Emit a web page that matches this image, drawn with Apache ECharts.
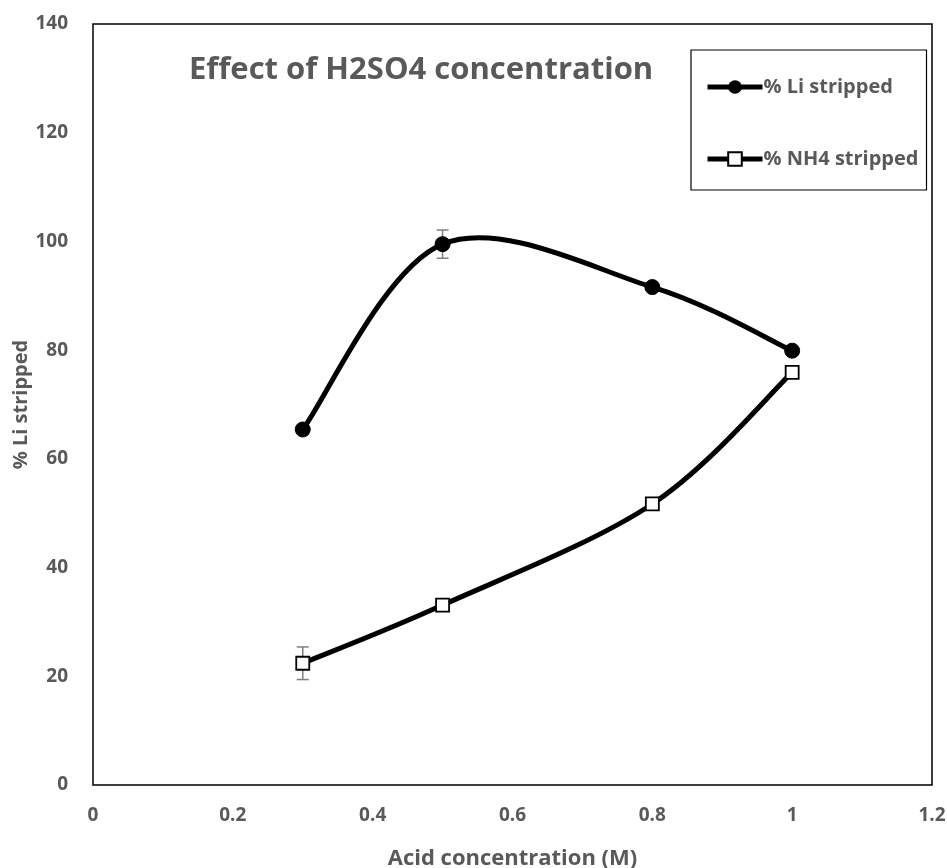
<!DOCTYPE html>
<html>
<head>
<meta charset="utf-8">
<script src="https://cdn.jsdelivr.net/npm/echarts@6/dist/echarts.min.js"></script>
<style>html,body{margin:0;padding:0;background:#fff;}#c{width:947px;height:868px;}</style>
</head>
<body>
<div id="c"></div>
<script>
const acid = [0.3, 0.5, 0.8, 1.0];
const liStripped = [65.4, 99.5, 91.6, 79.9];
const nh4Stripped = [22.4, 33.1, 51.7, 75.9];
const liErr = [0, 2.6, 0, 0];
const nh4Err = [3.0, 0, 0, 0];
const xTicks = [0, 0.2, 0.4, 0.6, 0.8, 1, 1.2];
const yTicks = [0, 20, 40, 60, 80, 100, 120, 140];

const FONT = '"Open Sans", Lato, sans-serif';
const GRAY = '#595959';

function pairs(xs, ys) { return xs.map((x, i) => [x, ys[i]]); }
function errData(xs, ys, es) {
  const out = [];
  xs.forEach((x, i) => { if (es[i] > 0) out.push([x, ys[i] - es[i], ys[i] + es[i]]); });
  return out;
}
function renderErr(params, api) {
  const x = api.value(0);
  const lo = api.coord([x, api.value(1)]);
  const hi = api.coord([x, api.value(2)]);
  const cap = 6;
  const st = { stroke: '#7f7f7f', lineWidth: 1.5 };
  return {
    type: 'group',
    children: [
      { type: 'line', shape: { x1: lo[0], y1: lo[1], x2: hi[0], y2: hi[1] }, style: st },
      { type: 'line', shape: { x1: lo[0] - cap, y1: lo[1], x2: lo[0] + cap, y2: lo[1] }, style: st },
      { type: 'line', shape: { x1: hi[0] - cap, y1: hi[1], x2: hi[0] + cap, y2: hi[1] }, style: st }
    ]
  };
}
// Spreadsheet-style smoothed line (Catmull-Rom through the points, in pixel space via the axes)
function makeCurveRenderer(xs, ys) {
  return function (params, api) {
    const i = params.dataIndex;
    const n = xs.length;
    if (i >= n - 1) return null;
    const P = k => api.coord([xs[Math.max(0, Math.min(n - 1, k))], ys[Math.max(0, Math.min(n - 1, k))]]);
    const p0 = P(i - 1), p1 = P(i), p2 = P(i + 1), p3 = P(i + 2);
    return {
      type: 'bezierCurve',
      shape: {
        x1: p1[0], y1: p1[1], x2: p2[0], y2: p2[1],
        cpx1: p1[0] + (p2[0] - p0[0]) / 6, cpy1: p1[1] + (p2[1] - p0[1]) / 6,
        cpx2: p2[0] - (p3[0] - p1[0]) / 6, cpy2: p2[1] - (p3[1] - p1[1]) / 6
      },
      style: { stroke: '#000', lineWidth: 5, fill: null, lineCap: 'round' }
    };
  };
}

const chart = echarts.init(document.getElementById('c'), null, { renderer: 'canvas' });
chart.setOption({
  animation: false,
  backgroundColor: '#fff',
  title: {
    text: 'Effect of H2SO4 concentration',
    left: 184, top: 50,
    textStyle: { fontFamily: FONT, fontSize: 31, fontWeight: 'bold', color: GRAY }
  },
  legend: {
    orient: 'vertical',
    left: 691, top: 50,
    padding: [27, 8, 21, 14],
    itemGap: 52,
    itemWidth: 55, itemHeight: 17,
    borderColor: '#000', borderWidth: 1.2,
    backgroundColor: '#fff',
    lineStyle: { color: '#000', width: 5, opacity: 1 },
    textStyle: { fontFamily: FONT, fontSize: 20, fontWeight: 'bold', color: GRAY, padding: [0, 0, 0, -4] },
    data: ['% Li stripped', '% NH4 stripped']
  },
  grid: { left: 93, right: 15, top: 24, bottom: 83, outerBoundsMode: 'none', containLabel: false,
    show: true, borderColor: '#000', borderWidth: 1.5, backgroundColor: 'transparent' },
  xAxis: {
    type: 'value', min: 0, max: 1.2, interval: 0.2,
    name: 'Acid concentration (M)', nameLocation: 'middle', nameGap: 63, nameMoveOverlap: false,
    nameTextStyle: { fontFamily: FONT, fontSize: 22, fontWeight: 'bold', color: GRAY },
    axisLine: { show: false }, axisTick: { show: false }, splitLine: { show: false },
    axisLabel: { margin: 21, fontFamily: FONT, fontSize: 19, fontWeight: 'bold', color: GRAY,
      formatter: v => { const t = xTicks.find(t => Math.abs(t - v) < 1e-9); return t === undefined ? '' : String(t); } }
  },
  yAxis: {
    type: 'value', min: 0, max: 140, interval: 20,
    name: '% Li stripped', nameLocation: 'middle', nameGap: 62, nameMoveOverlap: false,
    nameTextStyle: { fontFamily: FONT, fontSize: 20, fontWeight: 'bold', color: GRAY },
    axisLine: { show: false }, axisTick: { show: false }, splitLine: { show: false },
    axisLabel: { margin: 25, fontFamily: FONT, fontSize: 19, fontWeight: 'bold', color: GRAY,
      formatter: v => yTicks.includes(v) ? String(v) : '' }
  },
  series: [
    { type: 'custom', name: 'liErr', renderItem: renderErr, data: errData(acid, liStripped, liErr), z: 1, silent: true },
    { type: 'custom', name: 'nh4Err', renderItem: renderErr, data: errData(acid, nh4Stripped, nh4Err), z: 1, silent: true },
    { type: 'custom', name: 'liCurve', renderItem: makeCurveRenderer(acid, liStripped), data: pairs(acid, liStripped), z: 2, silent: true },
    { type: 'custom', name: 'nh4Curve', renderItem: makeCurveRenderer(acid, nh4Stripped), data: pairs(acid, nh4Stripped), z: 2, silent: true },
    {
      name: '% Li stripped', type: 'line', data: pairs(acid, liStripped), z: 3,
      symbol: 'circle', symbolSize: 15,
      lineStyle: { color: '#000', width: 5, opacity: 0 },
      itemStyle: { color: '#000', borderColor: '#000' }
    },
    {
      name: '% NH4 stripped', type: 'line', data: pairs(acid, nh4Stripped), z: 3,
      symbol: 'rect', symbolSize: 13,
      lineStyle: { color: '#000', width: 5, opacity: 0 },
      itemStyle: { color: '#fff', borderColor: '#000', borderWidth: 1.8 }
    }
  ]
});
</script>
</body>
</html>
